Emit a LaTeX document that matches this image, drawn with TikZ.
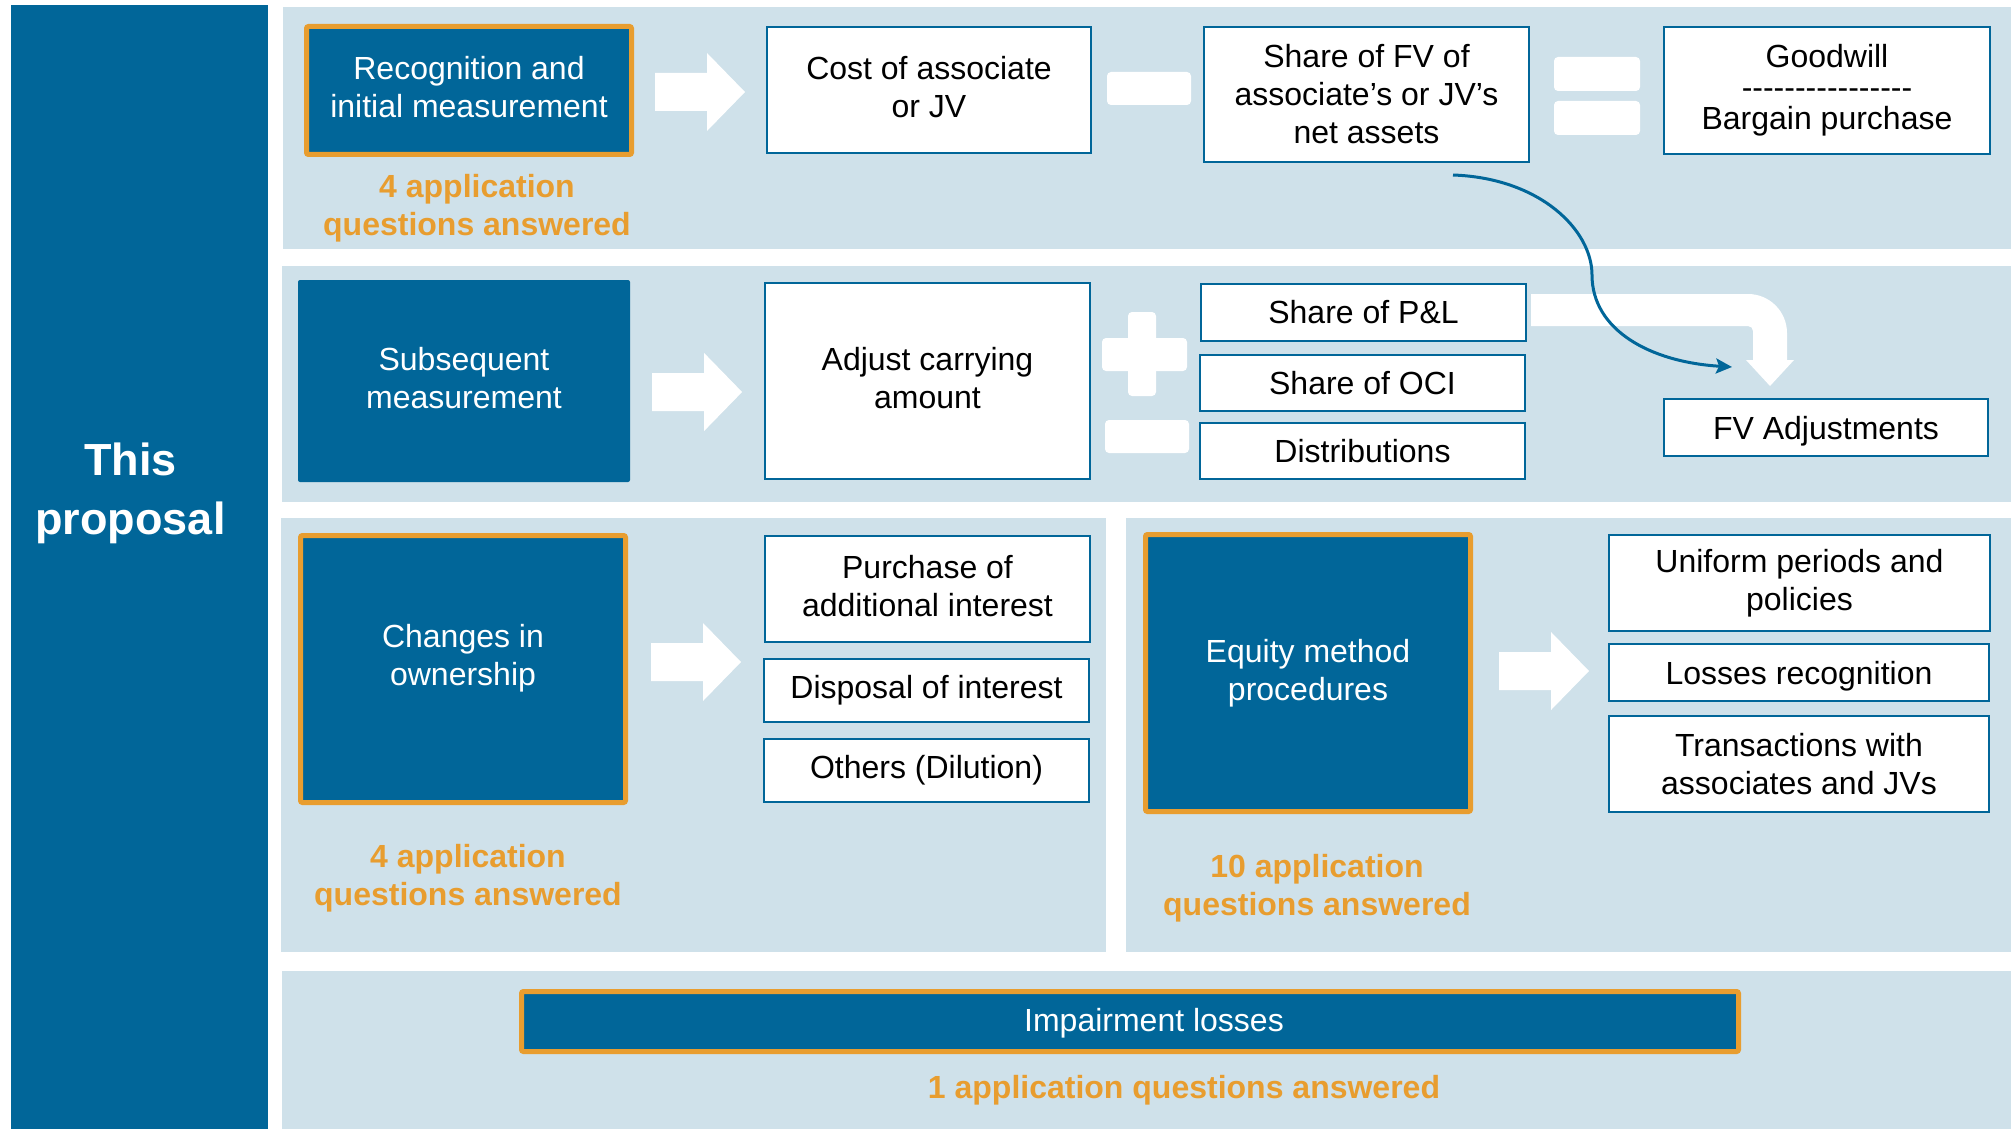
\documentclass[tikz,border=0pt]{standalone}
\usepackage{fontspec}
\setmainfont{Liberation Sans}
\usetikzlibrary{calc,arrows.meta}
\definecolor{dkblue}{HTML}{016699}
\definecolor{ltblue}{HTML}{CFE1EA}
\definecolor{orng}{HTML}{E89D2F}
% a row of single hyphens, kept apart so they never join into dashes
\newcommand\hyphenrow{\hbox{-}\hbox{-}\hbox{-}\hbox{-}\hbox{-}\hbox{-}\hbox{-}\hbox{-}\hbox{-}\hbox{-}\hbox{-}\hbox{-}\hbox{-}\hbox{-}\hbox{-}\hbox{-}}

\begin{document}
\begin{tikzpicture}[x=1pt,y=-1pt,
  panel/.style={fill=ltblue},
  bigtext/.style={font=\fontsize{32}{38}\selectfont, align=center, inner sep=0pt},
  twoline/.style={text depth=7pt},
  oneline/.style={text depth=0pt},
  darkbox/.style={bigtext, fill=dkblue, text=white, rounded corners=2pt},
  orframe/.style={draw=orng, line width=5pt},
  whitebox/.style={bigtext, fill=white, draw=dkblue, line width=2pt, text=black},
  qcount/.style={font=\bfseries\fontsize{32}{38}\selectfont, text=orng, align=center, inner sep=0pt},
  opsign/.style={fill=white, rounded corners=4pt},
  rarrow/.pic={\fill[white] (-45,-19) -- (7,-19) -- (7,-39) -- (45,0) -- (7,39) -- (7,19) -- (-45,19) -- cycle;},
]
\useasboundingbox (0,0) rectangle (2013,1129);
\fill[white] (0,0) rectangle (2013,1129);

% side band and title
\node[fill=dkblue, inner sep=0pt, minimum width=257pt, minimum height=1124pt] (side) at (139.5,567) {};
\node[font=\bfseries\fontsize{45}{59}\selectfont, text=white, align=center, inner sep=0pt] (title) at (130.5,493) {This\\proposal};

% row backgrounds
\fill[panel] (283,7) rectangle (2011,249);
\fill[panel] (282,266) rectangle (2011,502);
\fill[panel] (281,518) rectangle (1106,952);
\fill[panel] (1126,518) rectangle (2011,952);
\fill[panel] (282,971) rectangle (2011,1129);

% row 1: recognition and initial measurement
\node[darkbox, twoline, orframe, minimum width=325pt, minimum height=128pt] (recog) at (469,90.5) {Recognition and\\initial measurement};
\node[qcount] (q1) at (477,208) {4 application\\questions answered};
\node[whitebox, twoline, minimum width=324pt, minimum height=126pt] (cost) at (929,90) {Cost of associate\\or JV};
\node[whitebox, minimum width=325pt, minimum height=135pt] (sharefv) at (1366.5,94.5) {Share of FV of\\associate’s or JV’s\\net assets};
\node[whitebox, font=\fontsize{32}{31}\selectfont, minimum width=326pt, minimum height=127pt] (goodwill) at (1827,90.5) {Goodwill\\\hyphenrow\\Bargain purchase};
\pic at ($(recog.east)!0.5!(cost.west|-recog.east)+(0,1.5)$) {rarrow};
\fill[opsign] (1107,72) rectangle (1191,105);
\fill[opsign] (1554,57) rectangle (1640,91);
\fill[opsign] (1554,101) rectangle (1640,135);

% row 2: subsequent measurement
\node[darkbox, twoline, minimum width=332pt, minimum height=202pt] (subseq) at (464,381) {Subsequent\\measurement};
\node[whitebox, twoline, minimum width=325pt, minimum height=196pt] (adjust) at (927.5,381) {Adjust carrying\\amount};
\pic at ($(subseq.east)!0.5!(adjust.west|-subseq.east)+(0,11)$) {rarrow};
\fill[opsign] (1128,312) rectangle (1156,396);
\fill[opsign] (1102,338) rectangle (1187,371);
\fill[opsign] (1105,420) rectangle (1189,453);
\node[whitebox, minimum width=325pt, minimum height=57pt] (pl) at (1363.5,312.5) {Share of P\&L};
\node[whitebox, minimum width=325pt, minimum height=56pt] (oci) at (1362.5,383) {Share of OCI};
\node[whitebox, minimum width=325pt, minimum height=56pt] (dist) at (1362.5,451) {Distributions};
\node[whitebox, oneline, minimum width=324pt, minimum height=57pt] (fvadj) at (1826,427.5) {FV Adjustments};
% bent block arrow from the P&L share down to the FV adjustments
\fill[white] (1531,294) -- (1748,294) .. controls (1769.5,294) and (1787,311.5) .. (1787,333)
  -- (1787,360) -- (1794,360) -- (1770,386) -- (1746,360) -- (1753,360) -- (1753,331)
  .. controls (1753,328.2) and (1750.8,326) .. (1748,326) -- (1531,326) -- cycle;

% row 3 left: changes in ownership
\node[darkbox, orframe, minimum width=325pt, minimum height=267pt] (changes) at (463,669) {};
\node[bigtext, text=white] (changes-t) at (463,658) {Changes in\\ownership};
\node[qcount] (q2) at (468,878) {4 application\\questions answered};
\node[whitebox, twoline, minimum width=325pt, minimum height=106pt] (purchase) at (927.5,589) {Purchase of\\additional interest};
\node[whitebox, minimum width=325pt, minimum height=63pt] (disposal) at (926.5,690.5) {Disposal of interest};
\node[whitebox, minimum width=325pt, minimum height=63pt] (others) at (926.5,770.5) {Others (Dilution)};
\pic at ($(changes.east)!0.5!(purchase.west|-changes.east)+(0,-7)$) {rarrow};

% row 3 right: equity method procedures
\node[darkbox, orframe, minimum width=325pt, minimum height=277pt] (equity) at (1308,673) {Equity method\\procedures};
\node[qcount] (q3) at (1317,888) {10 application\\questions answered};
\node[whitebox, minimum width=381pt, minimum height=96pt] (uniform) at (1799.5,583) {Uniform periods and\\policies};
\node[whitebox, oneline, minimum width=380pt, minimum height=57pt] (losses) at (1799,672.5) {Losses recognition};
\node[whitebox, minimum width=380pt, minimum height=96pt] (trans) at (1799,764) {Transactions with\\associates and JVs};
\pic at ($(equity.east)!0.5!(losses.west|-equity.east)+(3.5,-2)$) {rarrow};

% row 4: impairment losses
\node[darkbox, orframe, minimum width=1217pt, minimum height=60pt] (impair) at (1130,1021.5) {};
\node[bigtext, text=white] (impair-t) at (1154,1023) {Impairment losses};
\node[qcount] (q4) at (1184,1090) {1 application questions answered};

% curved link from the share of net assets to the FV adjustments
\coordinate (cs) at ($(sharefv.south)+(86.5,12)$);
\coordinate (ce) at ($(fvadj.north west)+(69,-31)$);
\draw[dkblue, line width=3pt, -{Stealth[length=16pt,width=15pt,inset=3pt]}]
  (cs) .. controls (1540,178) and (1592,230) .. (1592,275)
       .. controls (1592,330) and (1650,362) .. (ce);
\end{tikzpicture}
\end{document}
